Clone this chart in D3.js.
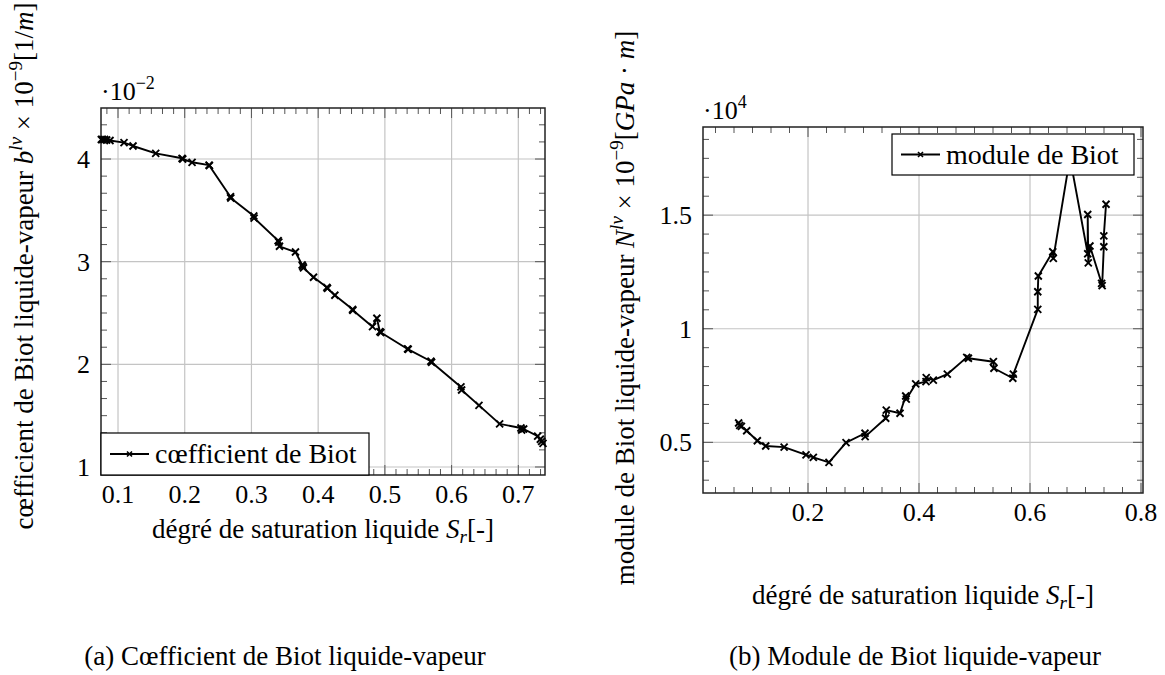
<!DOCTYPE html>
<html><head><meta charset="utf-8">
<script src="https://cdn.jsdelivr.net/npm/d3@7"></script>
<style>
html,body{margin:0;padding:0;background:#fff;}
svg text{font-family:"Liberation Serif","Times New Roman",serif;fill:#000;}
</style></head>
<body><svg id="c" width="1165" height="675"></svg>
<script>
// ---- data ----
const satA  = [0.075,0.077,0.080,0.083,0.088,0.109,0.1225,0.1565,0.196,0.197,0.211,0.2365,0.237,0.2685,0.269,0.3035,0.304,0.340,0.341,0.342,0.366,0.376,0.377,0.378,0.393,0.413,0.414,0.425,0.4515,0.452,0.4815,0.488,0.4925,0.494,0.534,0.535,0.569,0.570,0.614,0.615,0.641,0.672,0.704,0.705,0.708,0.729,0.733,0.735,0.737];
const coefA = [4.19,4.19,4.19,4.185,4.18,4.16,4.127,4.055,4.007,4.0,3.968,3.94,3.935,3.633,3.62,3.445,3.425,3.205,3.19,3.15,3.094,2.968,2.955,2.94,2.848,2.75,2.74,2.673,2.536,2.526,2.367,2.449,2.318,2.31,2.15,2.145,2.03,2.02,1.78,1.75,1.60,1.42,1.38,1.36,1.37,1.30,1.27,1.25,1.23];
const satB  = [0.075,0.077,0.080,0.0895,0.1087,0.1238,0.157,0.1964,0.2096,0.2378,0.2685,0.3027,0.303,0.340,0.341,0.3658,0.376,0.377,0.394,0.4126,0.413,0.4258,0.451,0.486,0.489,0.534,0.535,0.569,0.570,0.614,0.614,0.615,0.641,0.642,0.672,0.704,0.704,0.705,0.708,0.729,0.730,0.733,0.733,0.737];
const modB  = [0.585,0.575,0.570,0.551,0.507,0.484,0.479,0.445,0.434,0.412,0.499,0.540,0.525,0.606,0.642,0.628,0.704,0.690,0.757,0.767,0.785,0.774,0.800,0.874,0.870,0.855,0.826,0.782,0.800,1.085,1.163,1.232,1.339,1.310,1.753,1.330,1.503,1.290,1.364,1.200,1.190,1.361,1.409,1.548];
const xTicksA = [0.1,0.2,0.3,0.4,0.5,0.6,0.7];
const yTicksA = [1,2,3,4];
const xTicksB = [0.2,0.4,0.6,0.8];
const yTicksB = [0.5,1,1.5];
const legendA = "cœfficient de Biot";
const legendB = "module de Biot";
const captionA = "(a) Cœfficient de Biot liquide-vapeur";
const captionB = "(b) Module de Biot liquide-vapeur";

const svg = d3.select("#c");
svg.append("rect").attr("width",1165).attr("height",675).attr("fill","#fff");

function fmt(v){ return (Math.round(v*10)/10).toString(); }

function minorTicks(scale, majors){
  const step = (majors[1]-majors[0])/6;
  const [d0,d1] = scale.domain();
  const out=[];
  const start = majors[0] - Math.ceil((majors[0]-d0)/step)*step;
  for(let v=start; v<=d1+1e-9; v+=step){
    if(v < d0-1e-9) continue;
    if(majors.some(m=>Math.abs(m-v)<1e-6)) continue;
    out.push(v);
  }
  return out;
}

// rich text: parts {t, i:italic, sup:true, sub:true}
function rich(textSel, parts, base, small){
  let shift = 0;
  parts.forEach(p=>{
    const t = textSel.append("tspan").text(p.t);
    const target = p.sup ? -11 : (p.sub ? 5 : 0);
    if(target !== shift){ t.attr("dy", target - shift); shift = target; }
    t.attr("font-size", (p.sup||p.sub) ? small : base);
    if(p.i) t.attr("font-style","italic");
  });
}

function panel(o){
  const g = svg.append("g");
  const x = d3.scaleLinear().domain(o.xd).range([o.L,o.R]);
  const y = d3.scaleLinear().domain(o.yd).range([o.B,o.T]);
  // grid
  g.selectAll(null).data(o.xt).join("line")
    .attr("x1",d=>x(d)).attr("x2",d=>x(d)).attr("y1",o.T).attr("y2",o.B)
    .attr("stroke","#c4c4c4").attr("stroke-width",1.2);
  g.selectAll(null).data(o.yt).join("line")
    .attr("y1",d=>y(d)).attr("y2",d=>y(d)).attr("x1",o.L).attr("x2",o.R)
    .attr("stroke","#c4c4c4").attr("stroke-width",1.2);
  // ticks (inward, all four sides)
  const tk = g.append("g").attr("stroke","#555").attr("stroke-width",1);
  const mx = minorTicks(x,o.xt), my = minorTicks(y,o.yt);
  const addX = (vals,len)=>{ vals.forEach(v=>{
      tk.append("line").attr("x1",x(v)).attr("x2",x(v)).attr("y1",o.B).attr("y2",o.B-len);
      tk.append("line").attr("x1",x(v)).attr("x2",x(v)).attr("y1",o.T).attr("y2",o.T+len);});};
  const addY = (vals,len)=>{ vals.forEach(v=>{
      tk.append("line").attr("y1",y(v)).attr("y2",y(v)).attr("x1",o.L).attr("x2",o.L+len);
      tk.append("line").attr("y1",y(v)).attr("y2",y(v)).attr("x1",o.R).attr("x2",o.R-len);});};
  addX(mx,6); addY(my,6); addX(o.xt,10); addY(o.yt,10);
  // frame
  g.append("rect").attr("x",o.L).attr("y",o.T).attr("width",o.R-o.L).attr("height",o.B-o.T)
    .attr("fill","none").attr("stroke","#222").attr("stroke-width",1.5);
  // tick labels
  g.selectAll(null).data(o.xt).join("text")
    .attr("x",d=>x(d)).attr("y",o.B+28).attr("text-anchor","middle")
    .attr("font-size",26).text(fmt);
  g.selectAll(null).data(o.yt).join("text")
    .attr("x",o.L-11).attr("y",d=>y(d)+9).attr("text-anchor","end")
    .attr("font-size",26).text(fmt);
  // scale factor label
  const sf = g.append("text").attr("x",o.L).attr("y",o.T-8);
  rich(sf,[{t:"·10"},{t:o.exp,sup:true}],26,18);
  // line + markers
  const line = d3.line().x((d,i)=>x(o.xs[i])).y(d=>y(d));
  g.append("path").datum(o.ys).attr("d",line).attr("fill","none")
    .attr("stroke","#000").attr("stroke-width",1.9).attr("stroke-linejoin","round");
  const mk = "M-3.5,-3.5L3.5,3.5M-3.5,3.5L3.5,-3.5";
  g.selectAll(null).data(o.ys).join("path")
    .attr("transform",(d,i)=>`translate(${x(o.xs[i])},${y(d)})`)
    .attr("d",mk).attr("stroke","#000").attr("stroke-width",1.9);
  // legend
  const lg = g.append("g");
  lg.append("rect").attr("x",o.lg.x0).attr("y",o.lg.y0).attr("width",o.lg.x1-o.lg.x0).attr("height",o.lg.y1-o.lg.y0)
    .attr("fill","#fff").attr("stroke","#000").attr("stroke-width",1.2);
  const ly=(o.lg.y0+o.lg.y1)/2;
  lg.append("line").attr("x1",o.lg.x0+9).attr("x2",o.lg.x0+48).attr("y1",ly).attr("y2",ly)
    .attr("stroke","#000").attr("stroke-width",1.9);
  lg.append("path").attr("transform",`translate(${o.lg.x0+28.5},${ly})`).attr("d","M-2.5,-2.5L2.5,2.5M-2.5,2.5L2.5,-2.5")
    .attr("stroke","#000").attr("stroke-width",1.6);
  lg.append("text").attr("x",o.lg.x0+54).attr("y",ly+9).attr("font-size",28).text(o.lg.text);
  // x label
  const xl = g.append("text").attr("x",(o.L+o.R)/2).attr("y",o.xlY).attr("text-anchor","middle");
  rich(xl,[{t:"dégré de saturation liquide "},{t:"S",i:1},{t:"r",i:1,sub:true},{t:"[-]"}],27,19);
  // y label
  const yl = g.append("text").attr("transform",`translate(${o.ylX},${o.ylY}) rotate(-90)`)
    .attr("text-anchor","middle");
  rich(yl,o.ylParts,27,19);
  return g;
}

panel({
  L:101,R:545,T:108,B:475, xd:[0.0745,0.74], yd:[0.922,4.497],
  xt:xTicksA, yt:yTicksA, xs:satA, ys:coefA, exp:"−2",
  lg:{x0:101,x1:369,y0:433,y1:475,text:legendA},
  xlY:538, ylX:33, ylY:266,
  ylParts:[{t:"cœfficient de Biot liquide-vapeur "},{t:"b",i:1},{t:"lv",i:1,sup:true},{t:" × 10"},{t:"−9",sup:true},{t:"[1/"},{t:"m",i:1},{t:"]"}]
});
panel({
  L:703,R:1143,T:127,B:493, xd:[0.0108,0.8036], yd:[0.277,1.888],
  xt:xTicksB, yt:yTicksB, xs:satB, ys:modB, exp:"4",
  lg:{x0:892,x1:1134,y0:134,y1:175,text:legendB},
  xlY:604, ylX:634, ylY:308,
  ylParts:[{t:"module de Biot liquide-vapeur "},{t:"N",i:1},{t:"lv",i:1,sup:true},{t:" × 10"},{t:"−9",sup:true},{t:"["},{t:"GPa",i:1},{t:" · "},{t:"m",i:1},{t:"]"}]
});

svg.append("text").attr("x",285).attr("y",665).attr("text-anchor","middle").attr("font-size",27).text(captionA);
svg.append("text").attr("x",915).attr("y",665).attr("text-anchor","middle").attr("font-size",27).text(captionB);
</script></body></html>
